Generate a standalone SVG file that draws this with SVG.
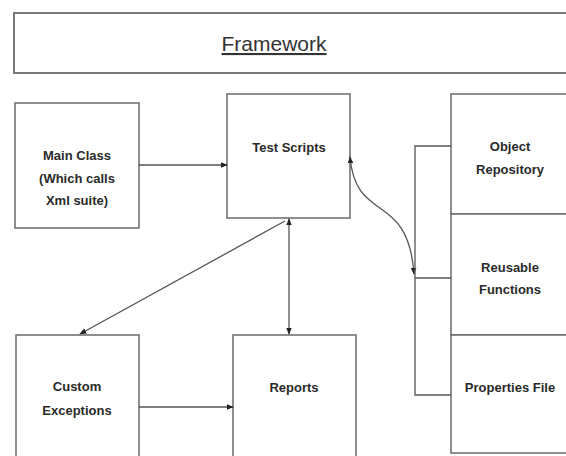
<svg xmlns="http://www.w3.org/2000/svg" width="566" height="456" viewBox="0 0 566 456">
<defs>
<marker id="ah" viewBox="0 0 10 10" refX="9" refY="5" markerWidth="7" markerHeight="7" orient="auto-start-reverse" markerUnits="userSpaceOnUse">
<path d="M0,1 L10,5 L0,9 Z" fill="#222"/>
</marker>
<style>
.box{fill:#fff;stroke:#6a6a6a;stroke-width:1.5}
.lbl{font-family:"Liberation Sans",Arial,sans-serif;font-size:13px;font-weight:bold;fill:#2a2a2a;text-anchor:middle}
.ln{fill:none;stroke:#555;stroke-width:1.3}
</style>
</defs>
<rect width="566" height="456" fill="#fff"/>
<g id="framework">
<rect class="box" x="14" y="13" width="560" height="60" style="stroke-width:2;stroke:#777"/>
<text x="274" y="51" style="font-family:'Liberation Sans',Arial,sans-serif;font-size:21px;fill:#333;text-anchor:middle;text-decoration:underline">Framework</text>
</g>
<g id="main-class">
<rect class="box" x="15" y="103" width="124" height="125"/>
<text class="lbl" x="77" y="160">Main Class</text>
<text class="lbl" x="77" y="183">(Which calls</text>
<text class="lbl" x="77" y="205">Xml suite)</text>
</g>
<g id="test-scripts">
<rect class="box" x="227" y="94" width="123" height="124"/>
<text class="lbl" x="289" y="152">Test Scripts</text>
</g>
<g id="object-repository">
<rect class="box" x="451" y="94" width="120" height="120"/>
<text class="lbl" x="510" y="151">Object</text>
<text class="lbl" x="510" y="174">Repository</text>
</g>
<g id="reusable-functions">
<rect class="box" x="451" y="214" width="120" height="121"/>
<text class="lbl" x="510" y="272">Reusable</text>
<text class="lbl" x="510" y="294">Functions</text>
</g>
<g id="properties-file">
<rect class="box" x="451" y="335" width="120" height="118"/>
<text class="lbl" x="510" y="392">Properties File</text>
</g>
<g id="custom-exceptions">
<rect class="box" x="16" y="335" width="123" height="130"/>
<text class="lbl" x="77" y="391">Custom</text>
<text class="lbl" x="77" y="415">Exceptions</text>
</g>
<g id="reports">
<rect class="box" x="233" y="335" width="123" height="130"/>
<text class="lbl" x="294" y="392">Reports</text>
</g>
<g id="connectors">
<line class="ln" x1="139" y1="165" x2="227" y2="165" marker-end="url(#ah)"/>
<line class="ln" x1="139" y1="407" x2="233" y2="407" marker-end="url(#ah)"/>
<line class="ln" x1="289" y1="219" x2="289" y2="334" marker-start="url(#ah)" marker-end="url(#ah)"/>
<line class="ln" x1="285" y1="221" x2="80" y2="334" marker-end="url(#ah)"/>
<path class="ln" d="M350,157 C356,225 408,190 414,274" marker-start="url(#ah)" marker-end="url(#ah)"/>
<polyline class="ln" points="451,146 415,146 415,395 451,395"/>
<line class="ln" x1="415" y1="278" x2="451" y2="278"/>
</g>
</svg>
